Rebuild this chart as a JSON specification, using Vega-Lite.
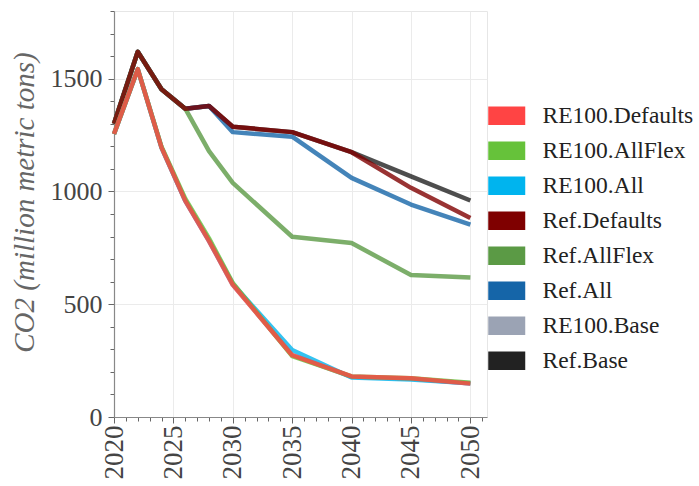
{
  "$schema": "https://vega.github.io/schema/vega-lite/v6.json",
  "width": 373,
  "height": 406,
  "autosize": {"type": "none"},
  "padding": {"left": 114, "top": 11, "right": 212, "bottom": 69},
  "background": "white",
  "config": {
    "view": {"stroke": "#E6E6E6", "strokeWidth": 1},
    "font": "Liberation Serif"
  },
  "data": {
    "values": [
      {"Year": 2020, "Scenario": "Ref.Base", "CO2": 1300},
      {"Year": 2022, "Scenario": "Ref.Base", "CO2": 1619},
      {"Year": 2024, "Scenario": "Ref.Base", "CO2": 1453},
      {"Year": 2026, "Scenario": "Ref.Base", "CO2": 1367},
      {"Year": 2028, "Scenario": "Ref.Base", "CO2": 1379},
      {"Year": 2030, "Scenario": "Ref.Base", "CO2": 1287},
      {"Year": 2035, "Scenario": "Ref.Base", "CO2": 1263},
      {"Year": 2040, "Scenario": "Ref.Base", "CO2": 1174},
      {"Year": 2045, "Scenario": "Ref.Base", "CO2": 1067},
      {"Year": 2050, "Scenario": "Ref.Base", "CO2": 960},

      {"Year": 2020, "Scenario": "RE100.Base", "CO2": 1255},
      {"Year": 2022, "Scenario": "RE100.Base", "CO2": 1542},
      {"Year": 2024, "Scenario": "RE100.Base", "CO2": 1194},
      {"Year": 2026, "Scenario": "RE100.Base", "CO2": 958},
      {"Year": 2028, "Scenario": "RE100.Base", "CO2": 780},
      {"Year": 2030, "Scenario": "RE100.Base", "CO2": 586},
      {"Year": 2035, "Scenario": "RE100.Base", "CO2": 274},
      {"Year": 2040, "Scenario": "RE100.Base", "CO2": 178},
      {"Year": 2045, "Scenario": "RE100.Base", "CO2": 170},
      {"Year": 2050, "Scenario": "RE100.Base", "CO2": 148},

      {"Year": 2020, "Scenario": "Ref.All", "CO2": 1300},
      {"Year": 2022, "Scenario": "Ref.All", "CO2": 1619},
      {"Year": 2024, "Scenario": "Ref.All", "CO2": 1453},
      {"Year": 2026, "Scenario": "Ref.All", "CO2": 1367},
      {"Year": 2028, "Scenario": "Ref.All", "CO2": 1379},
      {"Year": 2030, "Scenario": "Ref.All", "CO2": 1263},
      {"Year": 2035, "Scenario": "Ref.All", "CO2": 1243},
      {"Year": 2040, "Scenario": "Ref.All", "CO2": 1060},
      {"Year": 2045, "Scenario": "Ref.All", "CO2": 942},
      {"Year": 2050, "Scenario": "Ref.All", "CO2": 853},

      {"Year": 2020, "Scenario": "Ref.AllFlex", "CO2": 1300},
      {"Year": 2022, "Scenario": "Ref.AllFlex", "CO2": 1619},
      {"Year": 2024, "Scenario": "Ref.AllFlex", "CO2": 1453},
      {"Year": 2026, "Scenario": "Ref.AllFlex", "CO2": 1367},
      {"Year": 2028, "Scenario": "Ref.AllFlex", "CO2": 1179},
      {"Year": 2030, "Scenario": "Ref.AllFlex", "CO2": 1038},
      {"Year": 2035, "Scenario": "Ref.AllFlex", "CO2": 799},
      {"Year": 2040, "Scenario": "Ref.AllFlex", "CO2": 771},
      {"Year": 2045, "Scenario": "Ref.AllFlex", "CO2": 630},
      {"Year": 2050, "Scenario": "Ref.AllFlex", "CO2": 618},

      {"Year": 2020, "Scenario": "Ref.Defaults", "CO2": 1300},
      {"Year": 2022, "Scenario": "Ref.Defaults", "CO2": 1619},
      {"Year": 2024, "Scenario": "Ref.Defaults", "CO2": 1453},
      {"Year": 2026, "Scenario": "Ref.Defaults", "CO2": 1367},
      {"Year": 2028, "Scenario": "Ref.Defaults", "CO2": 1379},
      {"Year": 2030, "Scenario": "Ref.Defaults", "CO2": 1287},
      {"Year": 2035, "Scenario": "Ref.Defaults", "CO2": 1263},
      {"Year": 2040, "Scenario": "Ref.Defaults", "CO2": 1174},
      {"Year": 2045, "Scenario": "Ref.Defaults", "CO2": 1016},
      {"Year": 2050, "Scenario": "Ref.Defaults", "CO2": 882},

      {"Year": 2020, "Scenario": "RE100.All", "CO2": 1255},
      {"Year": 2022, "Scenario": "RE100.All", "CO2": 1542},
      {"Year": 2024, "Scenario": "RE100.All", "CO2": 1194},
      {"Year": 2026, "Scenario": "RE100.All", "CO2": 960},
      {"Year": 2028, "Scenario": "RE100.All", "CO2": 783},
      {"Year": 2030, "Scenario": "RE100.All", "CO2": 590},
      {"Year": 2035, "Scenario": "RE100.All", "CO2": 297},
      {"Year": 2040, "Scenario": "RE100.All", "CO2": 175},
      {"Year": 2045, "Scenario": "RE100.All", "CO2": 166},
      {"Year": 2050, "Scenario": "RE100.All", "CO2": 150},

      {"Year": 2020, "Scenario": "RE100.AllFlex", "CO2": 1255},
      {"Year": 2022, "Scenario": "RE100.AllFlex", "CO2": 1542},
      {"Year": 2024, "Scenario": "RE100.AllFlex", "CO2": 1198},
      {"Year": 2026, "Scenario": "RE100.AllFlex", "CO2": 968},
      {"Year": 2028, "Scenario": "RE100.AllFlex", "CO2": 792},
      {"Year": 2030, "Scenario": "RE100.AllFlex", "CO2": 594},
      {"Year": 2035, "Scenario": "RE100.AllFlex", "CO2": 270},
      {"Year": 2040, "Scenario": "RE100.AllFlex", "CO2": 180},
      {"Year": 2045, "Scenario": "RE100.AllFlex", "CO2": 172},
      {"Year": 2050, "Scenario": "RE100.AllFlex", "CO2": 152},

      {"Year": 2020, "Scenario": "RE100.Defaults", "CO2": 1255},
      {"Year": 2022, "Scenario": "RE100.Defaults", "CO2": 1542},
      {"Year": 2024, "Scenario": "RE100.Defaults", "CO2": 1194},
      {"Year": 2026, "Scenario": "RE100.Defaults", "CO2": 958},
      {"Year": 2028, "Scenario": "RE100.Defaults", "CO2": 780},
      {"Year": 2030, "Scenario": "RE100.Defaults", "CO2": 586},
      {"Year": 2035, "Scenario": "RE100.Defaults", "CO2": 274},
      {"Year": 2040, "Scenario": "RE100.Defaults", "CO2": 180},
      {"Year": 2045, "Scenario": "RE100.Defaults", "CO2": 172},
      {"Year": 2050, "Scenario": "RE100.Defaults", "CO2": 148}
    ]
  },
  "resolve": {"axis": {"x": "independent", "y": "independent"}},
  "layer": [
    {
      "mark": {"type": "line", "opacity": 0},
      "encoding": {
        "x": {
          "field": "Year", "type": "quantitative",
          "scale": {"domain": [2020, 2051.4], "nice": false, "zero": false},
          "axis": {
            "orient": "bottom",
            "values": [2021, 2022, 2023, 2024, 2026, 2027, 2028, 2029, 2031, 2032, 2033, 2034, 2036, 2037, 2038, 2039, 2041, 2042, 2043, 2044, 2046, 2047, 2048, 2049, 2051],
            "labels": false, "grid": false, "domain": false, "title": null,
            "tickSize": 4, "tickColor": "#666666", "tickWidth": 1
          }
        },
        "y": {
          "field": "CO2", "type": "quantitative",
          "scale": {"domain": [0, 1800], "nice": false},
          "axis": {
            "orient": "left",
            "values": [100, 200, 300, 400, 600, 700, 800, 900, 1100, 1200, 1300, 1400, 1600, 1700, 1800],
            "labels": false, "grid": false, "domain": false, "title": null,
            "tickSize": 4, "tickColor": "#666666", "tickWidth": 1
          }
        },
        "detail": {"field": "Scenario"}
      }
    },
    {
      "mark": {"type": "line", "strokeWidth": 4.5, "opacity": 0.8, "strokeJoin": "round"},
      "encoding": {
        "x": {
          "field": "Year", "type": "quantitative",
          "axis": {
            "orient": "bottom",
            "values": [2020, 2025, 2030, 2035, 2040, 2045, 2050],
            "format": "d", "title": null,
            "labelAngle": 270, "labelAlign": "right", "labelBaseline": "middle",
            "labelFont": "Liberation Serif", "labelFontSize": 27, "labelColor": "#444444",
            "labelPadding": 2, "tickSize": 6, "tickColor": "#666666",
            "domainColor": "#888888", "domainWidth": 1.2,
            "grid": true, "gridColor": "#EBEBEB", "gridWidth": 1
          }
        },
        "y": {
          "field": "CO2", "type": "quantitative",
          "axis": {
            "orient": "left",
            "values": [0, 500, 1000, 1500],
            "format": "d",
            "title": "CO2 (million metric tons)",
            "titleFont": "Liberation Serif", "titleFontSize": 29, "titleFontStyle": "italic",
            "titleFontWeight": "normal", "titleColor": "#666666",
            "titleX": -81, "titleY": 191, "titleAngle": 270,
            "titleAlign": "center", "titleBaseline": "alphabetic",
            "labelFont": "Liberation Serif", "labelFontSize": 26, "labelColor": "#444444",
            "labelPadding": 6, "tickSize": 6, "tickColor": "#666666",
            "domainColor": "#888888", "domainWidth": 1.2,
            "grid": true, "gridColor": "#EBEBEB", "gridWidth": 1
          }
        },
        "color": {
          "field": "Scenario", "type": "nominal",
          "scale": {
            "domain": ["RE100.Defaults", "RE100.AllFlex", "RE100.All", "Ref.Defaults", "Ref.AllFlex", "Ref.All", "RE100.Base", "Ref.Base"],
            "range": ["#FF4444", "#66C23A", "#00B4EE", "#7F0000", "#5B9A45", "#1565A8", "#9BA3B4", "#222222"]
          },
          "legend": {
            "title": null,
            "orient": "none",
            "legendX": 381,
            "legendY": 93,
            "padding": 0,
            "symbolType": "M-2,-1H2V1H-2Z",
            "symbolSize": 342,
            "symbolStrokeWidth": 0,
            "symbolOpacity": 1,
            "labelFont": "Liberation Serif",
            "labelFontSize": 23.5,
            "labelColor": "#222222",
            "labelOffset": 24,
            "labelLimit": 300,
            "rowPadding": 10,
            "encode": {
              "symbols": {
                "update": {
                  "fill": {"scale": "color", "field": "value"},
                  "strokeWidth": {"value": 0}
                }
              }
            }
          }
        }
      }
    }
  ]
}
